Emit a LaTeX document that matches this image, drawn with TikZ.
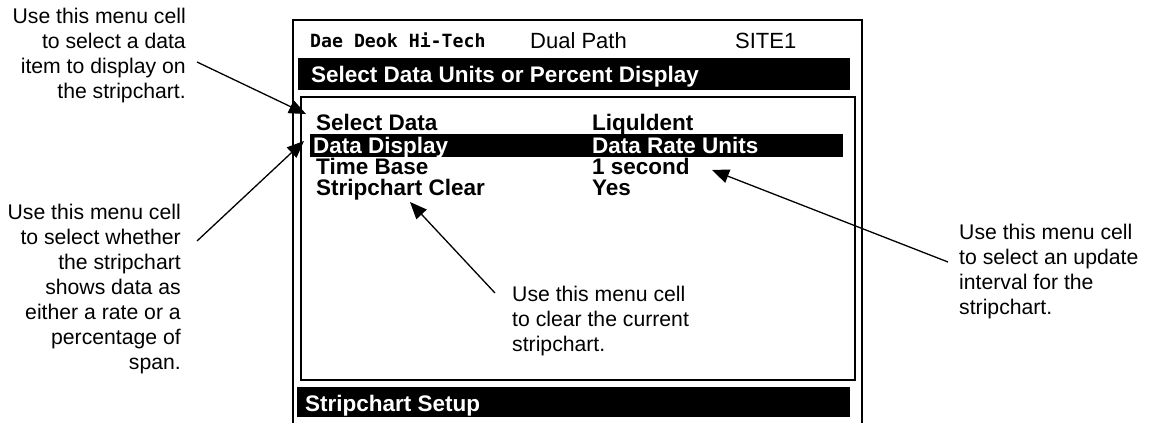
\documentclass[tikz,border=0pt]{standalone}
\usepackage{fontspec}
\setmainfont{Liberation Sans}
\newfontfamily\menufont{Liberation Sans}
\newfontfamily\termfont{DejaVu Sans Mono}
\usetikzlibrary{arrows.meta}
\begin{document}
\begin{tikzpicture}[x=1pt,y=-1pt,
  frameline/.style={line width=2.6pt,black},
  bar/.style={fill=black,draw=none},
  menutext/.style={anchor=base west,inner sep=0pt,text height=16pt,text depth=3pt,
    font=\menufont\bfseries\fontsize{22.5}{24}\selectfont},
  bartext/.style={menutext,text=white},
  toptext/.style={anchor=base west,inner sep=0pt,font=\fontsize{22}{22}\selectfont},
  note/.style={inner sep=0pt,align=#1,font=\fontsize{21.2}{25}\selectfont},
  pointer/.style={line width=1.3pt,-{Triangle[length=17pt,width=14pt]}}]
\useasboundingbox (0,0) rectangle (1149,423);

% screen frame, open at the bottom
\draw[frameline] (293,423) -- (293,20) -- (862,20) -- (862,423);
% title bars and menu box
\fill[bar] (298,58) rectangle (850,90);
\draw[frameline] (301,97) rectangle (855,380);
\fill[bar] (310,134) rectangle (843,157);
\fill[bar] (297,387) rectangle (850,417);

% header line
\node[anchor=base west,inner sep=0pt,font=\termfont\bfseries\fontsize{18.2}{18}\selectfont] (hdr) at (310,47) {Dae Deok Hi-Tech};
\node[toptext] (path) at (530,48) {Dual Path};
\node[toptext] (site) at (735,48) {SITE1};

\node[bartext] (title) at (311,82) {Select Data Units or Percent Display};

% menu rows
\node[menutext] (sel) at (316,130) {Select Data};
\node[menutext] (selv) at (592,130) {Liquldent};
\node[bartext] (disp) at (313,153) {Data Display};
\node[bartext] (dispv) at (592,153) {Data Rate Units};
\node[menutext] (tb) at (316,174.5) {Time Base};
\node[menutext] (tbv) at (592,174.5) {1 second};
\node[menutext] (clr) at (316,195) {Stripchart Clear};
\node[menutext] (clrv) at (592,195) {Yes};

\node[bartext] (setup) at (305,411) {Stripchart Setup};

% explanatory notes
\node[note=right,anchor=east] (n1) at (186,56) {Use this menu cell\\to select a data\\item to display on\\the stripchart.};
\node[note=right,anchor=east] (n2) at (181,289) {Use this menu cell\\to select whether\\the stripchart\\shows data as\\either a rate or a\\percentage of\\span.};
\node[note=left,anchor=west] (n3) at (512,321) {Use this menu cell\\to clear the current\\stripchart.};
\node[note=left,anchor=west] (n4) at (959,272) {Use this menu cell\\to select an update\\interval for the\\stripchart.};

% pointer ends
\coordinate (t1) at (306,114);
\coordinate (t2) at (304,141);
\coordinate (t3) at (410,202);
\coordinate (t4) at (712,170);
\coordinate (s1) at (197,62);
\coordinate (s2) at (197,241);
\coordinate (s3) at (495,293);
\coordinate (s4) at (948,262);

\draw[pointer] (s1) -- (t1);
\draw[pointer] (s2) -- (t2);
\draw[pointer] (s3) -- (t3);
\draw[pointer] (s4) -- (t4);
\end{tikzpicture}
\end{document}
